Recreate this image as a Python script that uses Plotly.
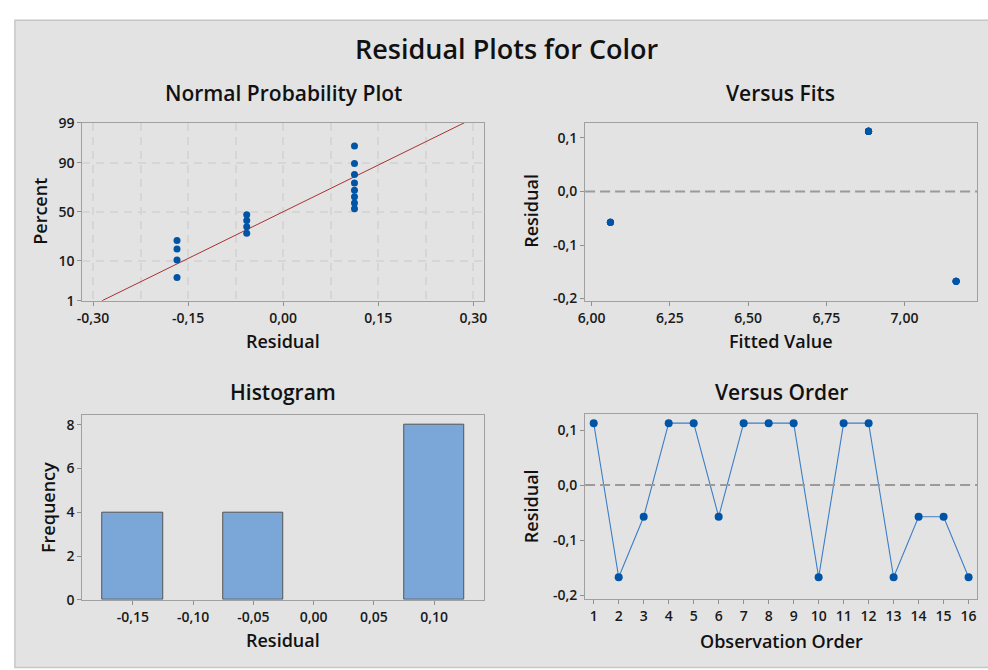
import numpy as np
import plotly.graph_objects as go
from statistics import NormalDist

# ---------------- data ----------------
observation_order = list(range(1, 17))
residuals = [0.1125, -0.1675, -0.0575, 0.1125, 0.1125, -0.0575, 0.1125, 0.1125,
             0.1125, -0.1675, 0.1125, 0.1125, -0.1675, -0.0575, -0.0575, -0.1675]
fitted_values = [6.885, 7.165, 6.06, 6.885, 6.885, 6.06, 6.885, 6.885,
                 6.885, 7.165, 6.885, 6.885, 7.165, 6.06, 6.06, 7.165]
percent_ticks = [1, 10, 50, 90, 99]
npp_x_ticks = [-0.30, -0.15, 0.00, 0.15, 0.30]
fits_x_ticks = [6.00, 6.25, 6.50, 6.75, 7.00]
resid_y_ticks = [0.1, 0.0, -0.1, -0.2]
hist_x_ticks = [-0.15, -0.10, -0.05, 0.00, 0.05, 0.10]
hist_y_ticks = [0, 2, 4, 6, 8]

W, H = 988, 670
nd = NormalDist()

def comma(v, d):
    return f"{v:.{d}f}".replace(".", ",")

def px(x):
    return x / W

def py(y):
    return 1 - y / H

# normal probability positions (median ranks)
n = len(residuals)
sorted_res = sorted(residuals)
pct = [(i + 1 - 0.3) / (n + 0.4) for i in range(n)]
zq = [nd.inv_cdf(p) for p in pct]
mu = float(np.mean(residuals))
sd = float(np.std(residuals, ddof=1))
z_lo, z_hi = nd.inv_cdf(0.01), nd.inv_cdf(0.99)
z_line = list(np.linspace(z_lo, z_hi, 60))
x_line = [mu + sd * z for z in z_line]

MARK = "#0054a6"
FAM = "Open Sans, Segoe UI, sans-serif"
TICKFONT = dict(family=FAM, size=14, color="#1a1a1a", weight=600)
TITLEFONT = dict(family=FAM, size=18, color="#111", weight=600)
SUBFONT = dict(family=FAM, size=21, color="#111", weight=600)

fig = go.Figure()

# NPP
fig.add_trace(go.Scatter(x=x_line, y=z_line, mode="lines", line=dict(color="#a83232", width=1),
                         xaxis="x", yaxis="y", hoverinfo="skip"))
fig.add_trace(go.Scatter(x=sorted_res, y=zq, mode="markers", marker=dict(color=MARK, size=7),
                         xaxis="x", yaxis="y"))
# Versus fits
fig.add_trace(go.Scatter(x=fitted_values, y=residuals, mode="markers", marker=dict(color=MARK, size=7),
                         xaxis="x2", yaxis="y2"))
# Histogram
fig.add_trace(go.Histogram(x=residuals, xbins=dict(start=-0.175, end=0.125, size=0.05),
                           marker=dict(color="#7ba6d8", line=dict(color="#555", width=1)),
                           xaxis="x3", yaxis="y3"))
# Versus order
fig.add_trace(go.Scatter(x=observation_order, y=residuals, mode="lines+markers",
                         line=dict(color="#3d7fc6", width=1.1),
                         marker=dict(color=MARK, size=8),
                         xaxis="x4", yaxis="y4"))

axis_common = dict(showline=True, mirror=True, linecolor="#a0a0a0", linewidth=1,
                   ticks="outside", ticklen=4, tickcolor="#909090", tickfont=TICKFONT,
                   zeroline=False, showgrid=False, fixedrange=True)
GRID = dict(showgrid=True, gridcolor="#d6d6d6", gridwidth=1.5, griddash="8px,6px")
axis_nogrid = {k: v for k, v in axis_common.items() if k != "showgrid"}

dom_x_left = [px(76), px(482)]
dom_x_right = [px(584), px(980)]
dom_y_top = [py(299.3), py(116)]
dom_y_bot = [py(607), py(416.5)]

fig.update_layout(
    width=W, height=H,
    margin=dict(l=0, r=0, t=0, b=0),
    paper_bgcolor="white", plot_bgcolor="white",
    showlegend=False, bargap=0,
    xaxis=dict(domain=dom_x_left, anchor="y", range=[-0.317, 0.317],
               tickvals=npp_x_ticks, ticktext=[comma(v, 2) for v in npp_x_ticks],
               minor=dict(dtick=0.075, tick0=-0.3, showgrid=True, gridcolor="#d6d6d6",
                          gridwidth=1.5, griddash="8px,6px", ticks=""),
               **GRID, **axis_nogrid),
    yaxis=dict(domain=dom_y_top, anchor="x", range=[z_lo, z_hi],
               tickvals=[nd.inv_cdf(p / 100) for p in percent_ticks],
               ticktext=[str(p) for p in percent_ticks],
               **GRID, **axis_nogrid),
    xaxis2=dict(domain=dom_x_right, anchor="y2", range=[5.979, 7.232],
                tickvals=fits_x_ticks, ticktext=[comma(v, 2) for v in fits_x_ticks], **axis_common),
    yaxis2=dict(domain=dom_y_top, anchor="x2", range=[-0.2042, 0.1285],
                tickvals=resid_y_ticks, ticktext=[comma(v, 1) for v in resid_y_ticks], **axis_common),
    xaxis3=dict(domain=dom_x_left, anchor="y3", range=[-0.192, 0.1415],
                tickvals=hist_x_ticks, ticktext=[comma(v, 2) for v in hist_x_ticks], **axis_common),
    yaxis3=dict(domain=dom_y_bot, anchor="x3", range=[0, 8.46],
                tickvals=hist_y_ticks, ticktext=[str(v) for v in hist_y_ticks], **axis_common),
    xaxis4=dict(domain=dom_x_right, anchor="y4", range=[0.655, 16.34],
                tickvals=observation_order, ticktext=[str(v) for v in observation_order], **axis_common),
    yaxis4=dict(domain=[py(606.7), py(416)], anchor="x4", range=[-0.2078, 0.1288],
                tickvals=resid_y_ticks, ticktext=[comma(v, 1) for v in resid_y_ticks], **axis_common),
)

shapes = [
    dict(type="rect", xref="paper", yref="paper", x0=px(8), x1=1.01, y0=-0.01, y1=py(10.5),
         fillcolor="#e3e3e3", line=dict(color="#c6c6c6", width=1.5), layer="below"),
    dict(type="line", xref="x2 domain", yref="y2", x0=0, x1=1, y0=0, y1=0,
         line=dict(color="#9a9a9a", width=2, dash="10px,5px")),
    dict(type="line", xref="x4 domain", yref="y4", x0=0, x1=1, y0=0, y1=0,
         line=dict(color="#9a9a9a", width=2, dash="10px,5px")),
]
fig.update_layout(shapes=shapes)

def ann(text, x, y, font, angle=0):
    return dict(text=text, x=px(x), y=py(y), xref="paper", yref="paper", showarrow=False,
                xanchor="center", yanchor="middle", textangle=angle, font=font)

annotations = [
    ann("Residual Plots for Color", 505, 40, dict(family=FAM, size=27, color="#111", weight=600)),
    ann("Normal Probability Plot", 279, 85, SUBFONT),
    ann("Versus Fits", 781, 85, SUBFONT),
    ann("Histogram", 279, 393, SUBFONT),
    ann("Versus Order", 782, 393, SUBFONT),
    ann("Residual", 279, 341, TITLEFONT),
    ann("Percent", 33, 207, TITLEFONT, -90),
    ann("Fitted Value", 782, 341, TITLEFONT),
    ann("Residual", 529, 207, TITLEFONT, -90),
    ann("Residual", 279, 648, TITLEFONT),
    ann("Frequency", 42, 512, TITLEFONT, -90),
    ann("Observation Order", 782, 649, TITLEFONT),
    ann("Residual", 529, 511, TITLEFONT, -90),
]
fig.update_layout(annotations=annotations)

fig.write_html("out.html")
